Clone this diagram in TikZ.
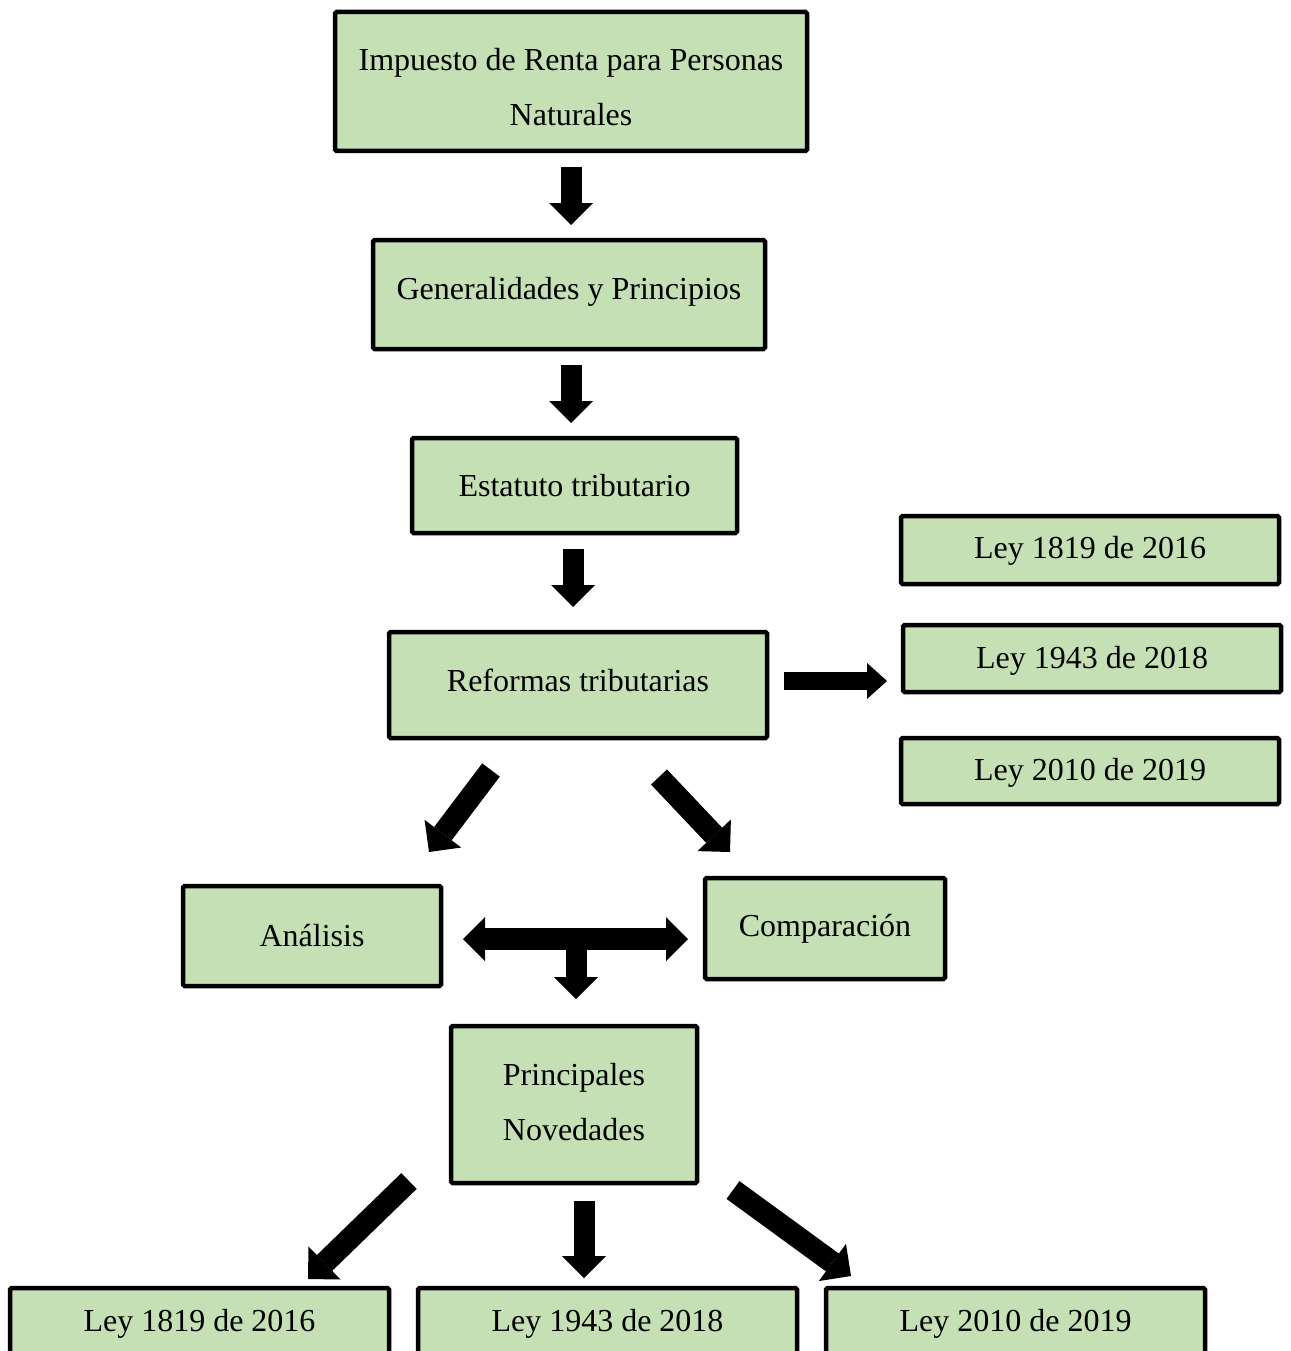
\documentclass[tikz,border=0pt]{standalone}
\usepackage{fontspec}
\setmainfont{Liberation Serif}
\usetikzlibrary{arrows.meta}
\definecolor{boxgreen}{HTML}{C5E0B4}
\newcommand\shtext[2]{\raisebox{#1}[\height][\depth]{#2}}
\begin{document}
\begin{tikzpicture}[x=1pt,y=-1pt,
  box/.style={draw=black, line width=4.5pt, fill=boxgreen, rounded corners=1.5pt, inner sep=0pt, align=center, font=\fontsize{32}{55}\selectfont, text=black},
  blk/.style={draw=black, line width=21pt, line cap=butt, -{Triangle[length=22pt,width=44pt,line width=0pt]}},
  blkh/.style={draw=black, line width=18pt, line cap=butt, -{Triangle[length=20pt,width=36pt,line width=0pt]}},
  blkd/.style={draw=black, line width=22pt, line cap=butt, -{Triangle[length=23pt,width=46pt,line width=0pt]}},
  blkdd/.style={draw=black, line width=22pt, line cap=butt, {Triangle[length=22pt,width=44pt,line width=0pt]}-{Triangle[length=22pt,width=44pt,line width=0pt]}},
]
\clip (0,0) rectangle (1290,1351);
\fill[white] (0,0) rectangle (1290,1351);

% boxes
\node[box, minimum width=472pt, minimum height=139pt] (imp) at (571,81.5) {\shtext{-6pt}{Impuesto de Renta para Personas}\\\shtext{-6pt}{Naturales}};
\node[box, minimum width=392pt, minimum height=109pt] (gen) at (569,294.5) {\shtext{3pt}{Generalidades y Principios}};
\node[box, minimum width=325pt, minimum height=95pt] (est) at (574.5,485.5) {Estatuto tributario};
\node[box, minimum width=378pt, minimum height=106pt] (ref) at (578,685) {\shtext{5pt}{Reformas tributarias}};
\node[box, minimum width=378pt, minimum height=68pt] (r1819) at (1090,550) {\shtext{-1pt}{Ley 1819 de 2016}};
\node[box, minimum width=378pt, minimum height=67pt] (r1943) at (1092,658.5) {\shtext{-2pt}{Ley 1943 de 2018}};
\node[box, minimum width=378pt, minimum height=66pt] (r2010) at (1090,771) {\shtext{-2pt}{Ley 2010 de 2019}};
\node[box, minimum width=258pt, minimum height=100pt] (ana) at (312,936) {Análisis};
\node[box, minimum width=240pt, minimum height=101pt] (comp) at (825,928.5) {Comparación};
\node[box, minimum width=246pt, minimum height=157pt] (pri) at (574,1104.5) {\shtext{2pt}{Principales}\\\shtext{2pt}{Novedades}};
\node[box, minimum width=379pt, minimum height=66pt] (b1819) at (199.5,1321) {\shtext{-3pt}{Ley 1819 de 2016}};
\node[box, minimum width=379pt, minimum height=66pt] (b1943) at (607.5,1321) {\shtext{-3pt}{Ley 1943 de 2018}};
\node[box, minimum width=379pt, minimum height=66pt] (b2010) at (1015.5,1321) {\shtext{-3pt}{Ley 2010 de 2019}};

% arrow end points
\coordinate (a1s) at (571,167);  \coordinate (a1e) at (571,225);
\coordinate (a2s) at (571,365);  \coordinate (a2e) at (571,423);
\coordinate (a3s) at (573,549);  \coordinate (a3e) at (573,607);
\coordinate (a4s) at (784,681);  \coordinate (a4e) at (887,681);
\coordinate (a5s) at (491,770);  \coordinate (a5e) at (429,852);
\coordinate (a6s) at (659,777);  \coordinate (a6e) at (730,852);
\coordinate (a7s) at (463,939);  \coordinate (a7e) at (688,939);
\coordinate (a8s) at (576,939);  \coordinate (a8e) at (576,999);
\coordinate (a9s) at (409,1181); \coordinate (a9e) at (308,1279);
\coordinate (a10s) at (584,1201); \coordinate (a10e) at (584,1278);
\coordinate (a11s) at (733,1190); \coordinate (a11e) at (851,1276);

% arrows
\draw[blk] (a1s) -- (a1e);
\draw[blk] (a2s) -- (a2e);
\draw[blk] (a3s) -- (a3e);
\draw[blkh] (a4s) -- (a4e);
\draw[blkd] (a5s) -- (a5e);
\draw[blkd] (a6s) -- (a6e);
\draw[blkdd] (a7s) -- (a7e);
\draw[blk] (a8s) -- (a8e);
\draw[blkd] (a9s) -- (a9e);
\draw[blk] (a10s) -- (a10e);
\draw[blkd] (a11s) -- (a11e);
\end{tikzpicture}
\end{document}
